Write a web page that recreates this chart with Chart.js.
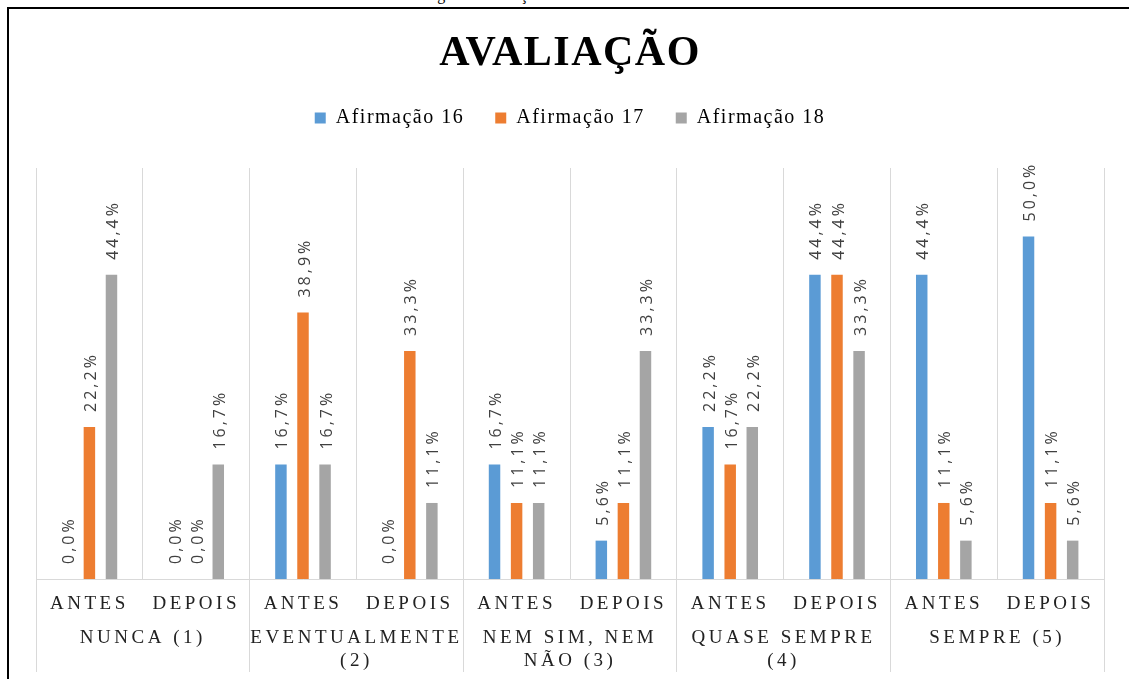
<!DOCTYPE html>
<html lang="pt">
<head>
<meta charset="utf-8">
<title>Avaliação</title>
<script src="https://cdn.jsdelivr.net/npm/chart.js@4.4.1/dist/chart.umd.min.js"></script>
<style>
    html, body { margin: 0; padding: 0; background: #fff; overflow: hidden; width: 1129px; height: 679px; }
    #caption { position: absolute; left: 0; top: -14px; font: 16px 'Liberation Serif', serif; white-space: nowrap; color: #000; }
    .rule { position: absolute; background: #000; }
    #chart { position: absolute; left: 0; top: 0; }
</style>
</head>
<body>
<div id="caption">Gráfico 6 – Resultados das afirmativas de entradas do elemento categórico avaliação</div>
<div class="rule" style="left:7px; top:7px; width:1122px; height:2px;"></div>
<div class="rule" style="left:7px; top:7px; width:2px; height:672px;"></div>
<canvas id="chart" width="1129" height="679"></canvas>
<script>
// sub categories (x axis) and the groups under them
const moments = ['ANTES', 'DEPOIS', 'ANTES', 'DEPOIS', 'ANTES', 'DEPOIS', 'ANTES', 'DEPOIS', 'ANTES', 'DEPOIS'];
const groups = ['NUNCA (1)', ['EVENTUALMENTE', '(2)'], ['NEM SIM, NEM', 'NÃO (3)'], ['QUASE SEMPRE', '(4)'], 'SEMPRE (5)'];

// values in %
const afirmacao16 = [0.0, 0.0, 16.7, 0.0, 16.7, 5.6, 22.2, 44.4, 44.4, 50.0];
const afirmacao17 = [22.2, 0.0, 38.9, 33.3, 11.1, 11.1, 16.7, 44.4, 11.1, 11.1];
const afirmacao18 = [44.4, 16.7, 16.7, 11.1, 11.1, 33.3, 22.2, 33.3, 5.6, 5.6];

const serif = 'Liberation Serif';
const gridGray = '#d9d9d9';
const axisText = '#222';

// rotated value labels above each bar + letter spacing for the texts
const valueLabels = {
    id: 'valueLabels',
    beforeLayout(chart) {
        // so the legend gets measured with the same spacing it is drawn with
        chart.ctx.letterSpacing = '1.5px';
    },
    beforeDraw(chart) {
        // title and legend are drawn first
        chart.ctx.letterSpacing = '1.5px';
    },
    afterDatasetsDraw(chart) {
        const ctx = chart.ctx;
        ctx.save();
        ctx.font = '16px "Open Sans"';
        ctx.fillStyle = '#404040';
        ctx.letterSpacing = '3px';
        ctx.textAlign = 'left';
        ctx.textBaseline = 'middle';
        chart.data.datasets.forEach((ds, i) => {
            chart.getDatasetMeta(i).data.forEach((bar, j) => {
                ctx.save();
                ctx.translate(bar.x + 2, bar.y - 15);
                ctx.rotate(-Math.PI / 2);
                ctx.fillText(ds.data[j].toFixed(1).replace('.', ',') + '%', 0, 0);
                ctx.restore();
            });
        });
        ctx.restore();
        // axis labels (ticks z = 1) get drawn right after this, spaced out
        ctx.letterSpacing = '3.5px';
    },
    afterDraw(chart) {
        chart.ctx.letterSpacing = '0px';
    }
};

new Chart(document.getElementById('chart'), {
    type: 'bar',
    data: {
        labels: moments,
        datasets: [
            { label: 'Afirmação 16', data: afirmacao16, backgroundColor: '#5b9bd5' },
            { label: 'Afirmação 17', data: afirmacao17, backgroundColor: '#ed7d31' },
            { label: 'Afirmação 18', data: afirmacao18, backgroundColor: '#a5a5a5' }
        ]
    },
    options: {
        responsive: false,
        animation: false,
        barPercentage: 0.52,
        categoryPercentage: 0.62,
        layout: { padding: { left: 36, right: 25, top: 9, bottom: 7 } },
        plugins: {
            title: {
                display: true,
                text: 'AVALIAÇÃO',
                color: '#000',
                font: { family: serif, size: 42, weight: 'bold', lineHeight: 1 },
                padding: { top: 24, bottom: 2 }
            },
            legend: {
                labels: {
                    color: '#000',
                    font: { family: serif, size: 20 },
                    boxWidth: 11,
                    boxHeight: 11,
                    padding: 31
                }
            },
            tooltip: { enabled: false }
        },
        scales: {
            y: { display: false, min: 0, max: 60 },
            x: {
                grid: {
                    color: gridGray,
                    offset: true,
                    tickLength: 93,
                    // tick marks only between the groups
                    tickColor: (c) => (c.index === undefined || c.index % 2 === 0) ? gridGray : 'rgba(0,0,0,0)'
                },
                border: { color: gridGray },
                ticks: {
                    color: axisText,
                    font: { family: serif, size: 19 },
                    padding: -79,
                    maxRotation: 0,
                    autoSkip: false,
                    z: 1
                },
                afterFit: (s) => { s.height = 36; }
            },
            groups: {
                type: 'category',
                labels: groups,
                position: 'bottom',
                offset: true,
                grid: { display: false, drawTicks: false },
                border: { display: false },
                ticks: {
                    color: axisText,
                    font: { family: serif, size: 19, lineHeight: 1.21 },
                    padding: 12,
                    maxRotation: 0,
                    autoSkip: false,
                    z: 1
                },
                afterFit: (s) => { s.height = 57; }
            },
            spacer: {
                type: 'category',
                position: 'top',
                grid: { display: false, drawTicks: false },
                border: { display: false },
                ticks: { display: false },
                afterFit: (s) => { s.height = 30; }
            }
        }
    },
    plugins: [valueLabels]
});
</script>
</body>
</html>
